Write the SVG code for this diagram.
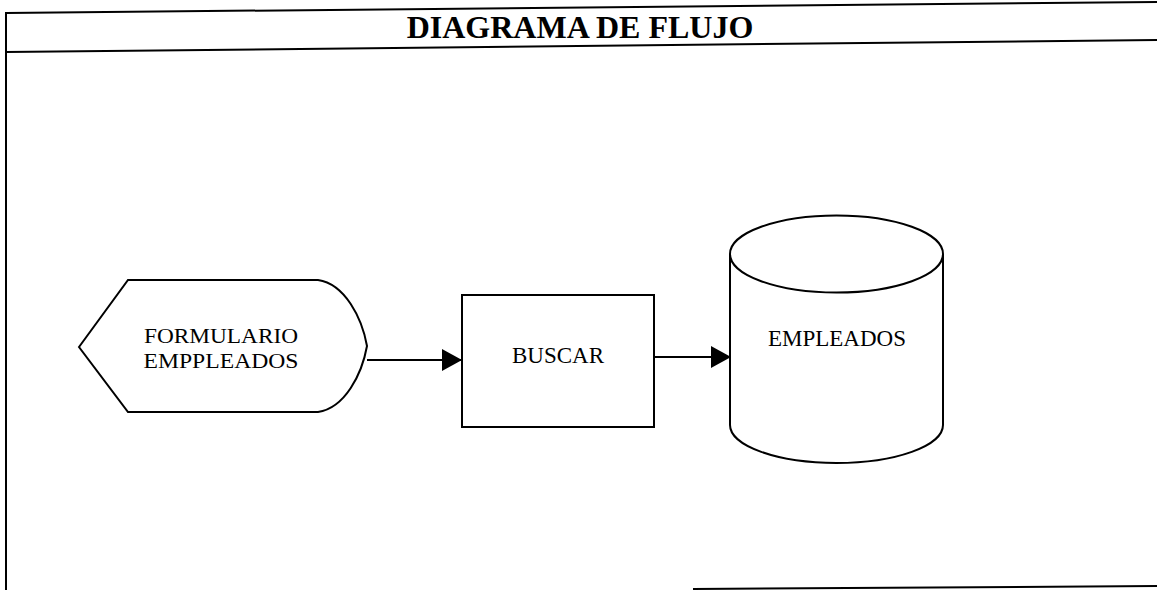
<svg xmlns="http://www.w3.org/2000/svg" width="1157" height="590" viewBox="0 0 1157 590">
  <style>
    .ln { fill: none; stroke: #000; stroke-width: 2; }
    .shape { fill: #fff; stroke: #000; stroke-width: 2; }
    .lbl { font-family: "Liberation Serif", "Times New Roman", serif; font-size: 23px; fill: #000; }
    .lbl2 { font-family: "Liberation Serif", "Times New Roman", serif; font-size: 22px; fill: #000; }
    .title { font-family: "Liberation Serif", "Times New Roman", serif; font-size: 32px; font-weight: bold; fill: #000; }
  </style>
  <defs>
    <marker id="arrow" markerWidth="20" markerHeight="22" refX="20" refY="11" orient="auto" markerUnits="userSpaceOnUse">
      <path d="M0,0 L20,11 L0,22 Z" fill="#000"/>
    </marker>
  </defs>
  <rect x="0" y="0" width="1157" height="590" fill="#fff"/>
  <g id="frame">
    <line class="ln" x1="6" y1="13" x2="1157" y2="2"/>
    <line class="ln" x1="6" y1="52" x2="1157" y2="40"/>
    <line class="ln" x1="6" y1="12" x2="6" y2="590"/>
    <line class="ln" x1="693" y1="589" x2="1157" y2="586"/>
    <text class="title" x="580" y="38" text-anchor="middle">DIAGRAMA DE FLUJO</text>
  </g>
  <g id="connectors">
    <line class="ln" x1="367" y1="360" x2="462" y2="360" marker-end="url(#arrow)"/>
    <line class="ln" x1="654" y1="357" x2="731" y2="357" marker-end="url(#arrow)"/>
  </g>
  <g id="node-formulario">
    <path class="shape" d="M79,347 L128,280 L318,280 C345,284 362,318 367,346 C362,374 345,408 318,412 L128,412 Z"/>
    <text class="lbl2" x="221" y="343" text-anchor="middle" textLength="154" lengthAdjust="spacingAndGlyphs">FORMULARIO</text>
    <text class="lbl2" x="221" y="368" text-anchor="middle" textLength="155" lengthAdjust="spacingAndGlyphs">EMPPLEADOS</text>
  </g>
  <g id="node-buscar">
    <rect class="shape" x="462" y="295" width="192" height="132"/>
    <text class="lbl" x="558" y="363" text-anchor="middle">BUSCAR</text>
  </g>
  <g id="node-empleados">
    <path class="shape" d="M730,254 L730,425 A106.5,38 0 0 0 943,425 L943,254"/>
    <ellipse class="shape" cx="836.5" cy="254" rx="106.5" ry="38.5"/>
    <text class="lbl" x="837" y="346" text-anchor="middle">EMPLEADOS</text>
  </g>
</svg>
